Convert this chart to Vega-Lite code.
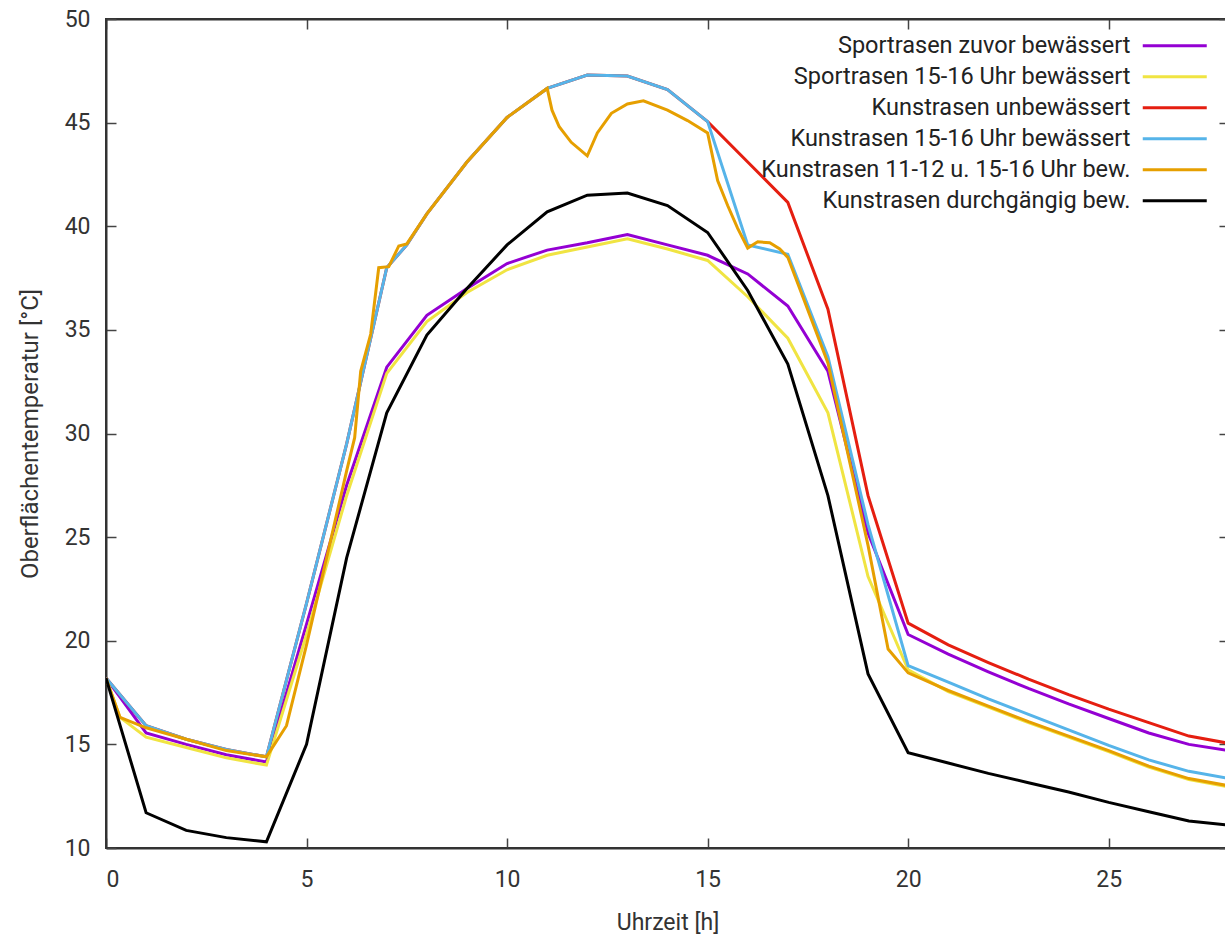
{
  "$schema": "https://vega.github.io/schema/vega-lite/v6.json",
  "autosize": {"type": "none"},
  "padding": {"left": 106, "top": 19, "right": 0, "bottom": 89},
  "width": 1123,
  "height": 829,
  "background": "white",
  "config": {
    "view": {"stroke": "#333", "strokeWidth": 2},
    "font": "Roboto"
  },
  "data": {
    "values": [
      {"serie": "Sportrasen zuvor bewässert", "zeit": 0, "temp": 18.2},
      {"serie": "Sportrasen zuvor bewässert", "zeit": 1, "temp": 15.55},
      {"serie": "Sportrasen zuvor bewässert", "zeit": 2, "temp": 15.0},
      {"serie": "Sportrasen zuvor bewässert", "zeit": 3, "temp": 14.5},
      {"serie": "Sportrasen zuvor bewässert", "zeit": 4, "temp": 14.15},
      {"serie": "Sportrasen zuvor bewässert", "zeit": 5, "temp": 20.8},
      {"serie": "Sportrasen zuvor bewässert", "zeit": 6, "temp": 27.5},
      {"serie": "Sportrasen zuvor bewässert", "zeit": 7, "temp": 33.2},
      {"serie": "Sportrasen zuvor bewässert", "zeit": 8, "temp": 35.7},
      {"serie": "Sportrasen zuvor bewässert", "zeit": 9, "temp": 37.0},
      {"serie": "Sportrasen zuvor bewässert", "zeit": 10, "temp": 38.2},
      {"serie": "Sportrasen zuvor bewässert", "zeit": 11, "temp": 38.85},
      {"serie": "Sportrasen zuvor bewässert", "zeit": 12, "temp": 39.2},
      {"serie": "Sportrasen zuvor bewässert", "zeit": 13, "temp": 39.6},
      {"serie": "Sportrasen zuvor bewässert", "zeit": 14, "temp": 39.1},
      {"serie": "Sportrasen zuvor bewässert", "zeit": 15, "temp": 38.6},
      {"serie": "Sportrasen zuvor bewässert", "zeit": 16, "temp": 37.7},
      {"serie": "Sportrasen zuvor bewässert", "zeit": 17, "temp": 36.15},
      {"serie": "Sportrasen zuvor bewässert", "zeit": 18, "temp": 33.0},
      {"serie": "Sportrasen zuvor bewässert", "zeit": 19, "temp": 25.2},
      {"serie": "Sportrasen zuvor bewässert", "zeit": 20, "temp": 20.3},
      {"serie": "Sportrasen zuvor bewässert", "zeit": 21, "temp": 19.35},
      {"serie": "Sportrasen zuvor bewässert", "zeit": 22, "temp": 18.5},
      {"serie": "Sportrasen zuvor bewässert", "zeit": 23, "temp": 17.7},
      {"serie": "Sportrasen zuvor bewässert", "zeit": 24, "temp": 16.95},
      {"serie": "Sportrasen zuvor bewässert", "zeit": 25, "temp": 16.25},
      {"serie": "Sportrasen zuvor bewässert", "zeit": 26, "temp": 15.55},
      {"serie": "Sportrasen zuvor bewässert", "zeit": 27, "temp": 15.0},
      {"serie": "Sportrasen zuvor bewässert", "zeit": 28, "temp": 14.7},

      {"serie": "Sportrasen 15-16 Uhr bewässert", "zeit": 0, "temp": 18.2},
      {"serie": "Sportrasen 15-16 Uhr bewässert", "zeit": 0.35, "temp": 16.3},
      {"serie": "Sportrasen 15-16 Uhr bewässert", "zeit": 1, "temp": 15.35},
      {"serie": "Sportrasen 15-16 Uhr bewässert", "zeit": 2, "temp": 14.85},
      {"serie": "Sportrasen 15-16 Uhr bewässert", "zeit": 3, "temp": 14.35},
      {"serie": "Sportrasen 15-16 Uhr bewässert", "zeit": 4, "temp": 14.0},
      {"serie": "Sportrasen 15-16 Uhr bewässert", "zeit": 5, "temp": 20.3},
      {"serie": "Sportrasen 15-16 Uhr bewässert", "zeit": 6, "temp": 27.0},
      {"serie": "Sportrasen 15-16 Uhr bewässert", "zeit": 7, "temp": 32.9},
      {"serie": "Sportrasen 15-16 Uhr bewässert", "zeit": 8, "temp": 35.4},
      {"serie": "Sportrasen 15-16 Uhr bewässert", "zeit": 9, "temp": 36.8},
      {"serie": "Sportrasen 15-16 Uhr bewässert", "zeit": 10, "temp": 37.9},
      {"serie": "Sportrasen 15-16 Uhr bewässert", "zeit": 11, "temp": 38.6},
      {"serie": "Sportrasen 15-16 Uhr bewässert", "zeit": 12, "temp": 39.0},
      {"serie": "Sportrasen 15-16 Uhr bewässert", "zeit": 13, "temp": 39.4},
      {"serie": "Sportrasen 15-16 Uhr bewässert", "zeit": 14, "temp": 38.9},
      {"serie": "Sportrasen 15-16 Uhr bewässert", "zeit": 15, "temp": 38.35},
      {"serie": "Sportrasen 15-16 Uhr bewässert", "zeit": 16, "temp": 36.6},
      {"serie": "Sportrasen 15-16 Uhr bewässert", "zeit": 17, "temp": 34.6},
      {"serie": "Sportrasen 15-16 Uhr bewässert", "zeit": 18, "temp": 31.0},
      {"serie": "Sportrasen 15-16 Uhr bewässert", "zeit": 19, "temp": 23.1},
      {"serie": "Sportrasen 15-16 Uhr bewässert", "zeit": 20, "temp": 18.6},
      {"serie": "Sportrasen 15-16 Uhr bewässert", "zeit": 21, "temp": 17.55},
      {"serie": "Sportrasen 15-16 Uhr bewässert", "zeit": 22, "temp": 16.8},
      {"serie": "Sportrasen 15-16 Uhr bewässert", "zeit": 23, "temp": 16.05},
      {"serie": "Sportrasen 15-16 Uhr bewässert", "zeit": 24, "temp": 15.35},
      {"serie": "Sportrasen 15-16 Uhr bewässert", "zeit": 25, "temp": 14.65},
      {"serie": "Sportrasen 15-16 Uhr bewässert", "zeit": 26, "temp": 13.9},
      {"serie": "Sportrasen 15-16 Uhr bewässert", "zeit": 27, "temp": 13.3},
      {"serie": "Sportrasen 15-16 Uhr bewässert", "zeit": 28, "temp": 12.95},

      {"serie": "Kunstrasen unbewässert", "zeit": 0, "temp": 18.2},
      {"serie": "Kunstrasen unbewässert", "zeit": 1, "temp": 15.9},
      {"serie": "Kunstrasen unbewässert", "zeit": 2, "temp": 15.25},
      {"serie": "Kunstrasen unbewässert", "zeit": 3, "temp": 14.75},
      {"serie": "Kunstrasen unbewässert", "zeit": 4, "temp": 14.4},
      {"serie": "Kunstrasen unbewässert", "zeit": 5, "temp": 21.8},
      {"serie": "Kunstrasen unbewässert", "zeit": 6, "temp": 29.5},
      {"serie": "Kunstrasen unbewässert", "zeit": 7, "temp": 38.0},
      {"serie": "Kunstrasen unbewässert", "zeit": 7.5, "temp": 39.1},
      {"serie": "Kunstrasen unbewässert", "zeit": 8, "temp": 40.6},
      {"serie": "Kunstrasen unbewässert", "zeit": 9, "temp": 43.1},
      {"serie": "Kunstrasen unbewässert", "zeit": 10, "temp": 45.25},
      {"serie": "Kunstrasen unbewässert", "zeit": 11, "temp": 46.65},
      {"serie": "Kunstrasen unbewässert", "zeit": 12, "temp": 47.3},
      {"serie": "Kunstrasen unbewässert", "zeit": 13, "temp": 47.25},
      {"serie": "Kunstrasen unbewässert", "zeit": 14, "temp": 46.6},
      {"serie": "Kunstrasen unbewässert", "zeit": 15, "temp": 45.05},
      {"serie": "Kunstrasen unbewässert", "zeit": 16, "temp": 43.1},
      {"serie": "Kunstrasen unbewässert", "zeit": 17, "temp": 41.15},
      {"serie": "Kunstrasen unbewässert", "zeit": 18, "temp": 36.0},
      {"serie": "Kunstrasen unbewässert", "zeit": 19, "temp": 27.0},
      {"serie": "Kunstrasen unbewässert", "zeit": 20, "temp": 20.85},
      {"serie": "Kunstrasen unbewässert", "zeit": 21, "temp": 19.8},
      {"serie": "Kunstrasen unbewässert", "zeit": 22, "temp": 18.95},
      {"serie": "Kunstrasen unbewässert", "zeit": 23, "temp": 18.15},
      {"serie": "Kunstrasen unbewässert", "zeit": 24, "temp": 17.4},
      {"serie": "Kunstrasen unbewässert", "zeit": 25, "temp": 16.7},
      {"serie": "Kunstrasen unbewässert", "zeit": 26, "temp": 16.05},
      {"serie": "Kunstrasen unbewässert", "zeit": 27, "temp": 15.4},
      {"serie": "Kunstrasen unbewässert", "zeit": 28, "temp": 15.05},

      {"serie": "Kunstrasen 15-16 Uhr bewässert", "zeit": 0, "temp": 18.2},
      {"serie": "Kunstrasen 15-16 Uhr bewässert", "zeit": 1, "temp": 15.9},
      {"serie": "Kunstrasen 15-16 Uhr bewässert", "zeit": 2, "temp": 15.25},
      {"serie": "Kunstrasen 15-16 Uhr bewässert", "zeit": 3, "temp": 14.75},
      {"serie": "Kunstrasen 15-16 Uhr bewässert", "zeit": 4, "temp": 14.4},
      {"serie": "Kunstrasen 15-16 Uhr bewässert", "zeit": 5, "temp": 21.8},
      {"serie": "Kunstrasen 15-16 Uhr bewässert", "zeit": 6, "temp": 29.5},
      {"serie": "Kunstrasen 15-16 Uhr bewässert", "zeit": 7, "temp": 38.0},
      {"serie": "Kunstrasen 15-16 Uhr bewässert", "zeit": 7.5, "temp": 39.1},
      {"serie": "Kunstrasen 15-16 Uhr bewässert", "zeit": 8, "temp": 40.6},
      {"serie": "Kunstrasen 15-16 Uhr bewässert", "zeit": 9, "temp": 43.1},
      {"serie": "Kunstrasen 15-16 Uhr bewässert", "zeit": 10, "temp": 45.25},
      {"serie": "Kunstrasen 15-16 Uhr bewässert", "zeit": 11, "temp": 46.65},
      {"serie": "Kunstrasen 15-16 Uhr bewässert", "zeit": 12, "temp": 47.3},
      {"serie": "Kunstrasen 15-16 Uhr bewässert", "zeit": 13, "temp": 47.25},
      {"serie": "Kunstrasen 15-16 Uhr bewässert", "zeit": 14, "temp": 46.6},
      {"serie": "Kunstrasen 15-16 Uhr bewässert", "zeit": 15, "temp": 45.05},
      {"serie": "Kunstrasen 15-16 Uhr bewässert", "zeit": 16, "temp": 39.1},
      {"serie": "Kunstrasen 15-16 Uhr bewässert", "zeit": 17, "temp": 38.65},
      {"serie": "Kunstrasen 15-16 Uhr bewässert", "zeit": 18, "temp": 33.7},
      {"serie": "Kunstrasen 15-16 Uhr bewässert", "zeit": 19, "temp": 25.6},
      {"serie": "Kunstrasen 15-16 Uhr bewässert", "zeit": 20, "temp": 18.8},
      {"serie": "Kunstrasen 15-16 Uhr bewässert", "zeit": 21, "temp": 18.0},
      {"serie": "Kunstrasen 15-16 Uhr bewässert", "zeit": 22, "temp": 17.2},
      {"serie": "Kunstrasen 15-16 Uhr bewässert", "zeit": 23, "temp": 16.45},
      {"serie": "Kunstrasen 15-16 Uhr bewässert", "zeit": 24, "temp": 15.7},
      {"serie": "Kunstrasen 15-16 Uhr bewässert", "zeit": 25, "temp": 14.95},
      {"serie": "Kunstrasen 15-16 Uhr bewässert", "zeit": 26, "temp": 14.25},
      {"serie": "Kunstrasen 15-16 Uhr bewässert", "zeit": 27, "temp": 13.7},
      {"serie": "Kunstrasen 15-16 Uhr bewässert", "zeit": 28, "temp": 13.35},

      {"serie": "Kunstrasen 11-12 u. 15-16 Uhr bew.", "zeit": 0, "temp": 18.2},
      {"serie": "Kunstrasen 11-12 u. 15-16 Uhr bew.", "zeit": 0.35, "temp": 16.3},
      {"serie": "Kunstrasen 11-12 u. 15-16 Uhr bew.", "zeit": 1, "temp": 15.8},
      {"serie": "Kunstrasen 11-12 u. 15-16 Uhr bew.", "zeit": 2, "temp": 15.25},
      {"serie": "Kunstrasen 11-12 u. 15-16 Uhr bew.", "zeit": 3, "temp": 14.7},
      {"serie": "Kunstrasen 11-12 u. 15-16 Uhr bew.", "zeit": 4, "temp": 14.4},
      {"serie": "Kunstrasen 11-12 u. 15-16 Uhr bew.", "zeit": 4.5, "temp": 15.9},
      {"serie": "Kunstrasen 11-12 u. 15-16 Uhr bew.", "zeit": 5, "temp": 19.8},
      {"serie": "Kunstrasen 11-12 u. 15-16 Uhr bew.", "zeit": 5.5, "temp": 24.0},
      {"serie": "Kunstrasen 11-12 u. 15-16 Uhr bew.", "zeit": 6, "temp": 28.2},
      {"serie": "Kunstrasen 11-12 u. 15-16 Uhr bew.", "zeit": 6.2, "temp": 29.8},
      {"serie": "Kunstrasen 11-12 u. 15-16 Uhr bew.", "zeit": 6.35, "temp": 33.0},
      {"serie": "Kunstrasen 11-12 u. 15-16 Uhr bew.", "zeit": 6.6, "temp": 34.8},
      {"serie": "Kunstrasen 11-12 u. 15-16 Uhr bew.", "zeit": 6.8, "temp": 38.0},
      {"serie": "Kunstrasen 11-12 u. 15-16 Uhr bew.", "zeit": 7.05, "temp": 38.05},
      {"serie": "Kunstrasen 11-12 u. 15-16 Uhr bew.", "zeit": 7.3, "temp": 39.05},
      {"serie": "Kunstrasen 11-12 u. 15-16 Uhr bew.", "zeit": 7.5, "temp": 39.15},
      {"serie": "Kunstrasen 11-12 u. 15-16 Uhr bew.", "zeit": 8, "temp": 40.6},
      {"serie": "Kunstrasen 11-12 u. 15-16 Uhr bew.", "zeit": 9, "temp": 43.1},
      {"serie": "Kunstrasen 11-12 u. 15-16 Uhr bew.", "zeit": 10, "temp": 45.25},
      {"serie": "Kunstrasen 11-12 u. 15-16 Uhr bew.", "zeit": 11, "temp": 46.65},
      {"serie": "Kunstrasen 11-12 u. 15-16 Uhr bew.", "zeit": 11.12, "temp": 45.6},
      {"serie": "Kunstrasen 11-12 u. 15-16 Uhr bew.", "zeit": 11.3, "temp": 44.8},
      {"serie": "Kunstrasen 11-12 u. 15-16 Uhr bew.", "zeit": 11.6, "temp": 44.05},
      {"serie": "Kunstrasen 11-12 u. 15-16 Uhr bew.", "zeit": 12, "temp": 43.4},
      {"serie": "Kunstrasen 11-12 u. 15-16 Uhr bew.", "zeit": 12.25, "temp": 44.5},
      {"serie": "Kunstrasen 11-12 u. 15-16 Uhr bew.", "zeit": 12.6, "temp": 45.45},
      {"serie": "Kunstrasen 11-12 u. 15-16 Uhr bew.", "zeit": 13, "temp": 45.9},
      {"serie": "Kunstrasen 11-12 u. 15-16 Uhr bew.", "zeit": 13.4, "temp": 46.05},
      {"serie": "Kunstrasen 11-12 u. 15-16 Uhr bew.", "zeit": 14, "temp": 45.6},
      {"serie": "Kunstrasen 11-12 u. 15-16 Uhr bew.", "zeit": 14.5, "temp": 45.1},
      {"serie": "Kunstrasen 11-12 u. 15-16 Uhr bew.", "zeit": 15, "temp": 44.5},
      {"serie": "Kunstrasen 11-12 u. 15-16 Uhr bew.", "zeit": 15.25, "temp": 42.2},
      {"serie": "Kunstrasen 11-12 u. 15-16 Uhr bew.", "zeit": 15.5, "temp": 41.0},
      {"serie": "Kunstrasen 11-12 u. 15-16 Uhr bew.", "zeit": 15.75, "temp": 39.9},
      {"serie": "Kunstrasen 11-12 u. 15-16 Uhr bew.", "zeit": 16, "temp": 38.95},
      {"serie": "Kunstrasen 11-12 u. 15-16 Uhr bew.", "zeit": 16.25, "temp": 39.25},
      {"serie": "Kunstrasen 11-12 u. 15-16 Uhr bew.", "zeit": 16.55, "temp": 39.2},
      {"serie": "Kunstrasen 11-12 u. 15-16 Uhr bew.", "zeit": 16.8, "temp": 38.9},
      {"serie": "Kunstrasen 11-12 u. 15-16 Uhr bew.", "zeit": 17, "temp": 38.5},
      {"serie": "Kunstrasen 11-12 u. 15-16 Uhr bew.", "zeit": 18, "temp": 33.4},
      {"serie": "Kunstrasen 11-12 u. 15-16 Uhr bew.", "zeit": 19, "temp": 24.6},
      {"serie": "Kunstrasen 11-12 u. 15-16 Uhr bew.", "zeit": 19.5, "temp": 19.6},
      {"serie": "Kunstrasen 11-12 u. 15-16 Uhr bew.", "zeit": 20, "temp": 18.45},
      {"serie": "Kunstrasen 11-12 u. 15-16 Uhr bew.", "zeit": 21, "temp": 17.6},
      {"serie": "Kunstrasen 11-12 u. 15-16 Uhr bew.", "zeit": 22, "temp": 16.85},
      {"serie": "Kunstrasen 11-12 u. 15-16 Uhr bew.", "zeit": 23, "temp": 16.1},
      {"serie": "Kunstrasen 11-12 u. 15-16 Uhr bew.", "zeit": 24, "temp": 15.4},
      {"serie": "Kunstrasen 11-12 u. 15-16 Uhr bew.", "zeit": 25, "temp": 14.7},
      {"serie": "Kunstrasen 11-12 u. 15-16 Uhr bew.", "zeit": 26, "temp": 13.95},
      {"serie": "Kunstrasen 11-12 u. 15-16 Uhr bew.", "zeit": 27, "temp": 13.35},
      {"serie": "Kunstrasen 11-12 u. 15-16 Uhr bew.", "zeit": 28, "temp": 13.0},

      {"serie": "Kunstrasen durchgängig bew.", "zeit": 0, "temp": 18.2},
      {"serie": "Kunstrasen durchgängig bew.", "zeit": 1, "temp": 11.7},
      {"serie": "Kunstrasen durchgängig bew.", "zeit": 2, "temp": 10.85},
      {"serie": "Kunstrasen durchgängig bew.", "zeit": 3, "temp": 10.5},
      {"serie": "Kunstrasen durchgängig bew.", "zeit": 4, "temp": 10.3},
      {"serie": "Kunstrasen durchgängig bew.", "zeit": 5, "temp": 15.0},
      {"serie": "Kunstrasen durchgängig bew.", "zeit": 6, "temp": 24.0},
      {"serie": "Kunstrasen durchgängig bew.", "zeit": 7, "temp": 31.0},
      {"serie": "Kunstrasen durchgängig bew.", "zeit": 8, "temp": 34.75},
      {"serie": "Kunstrasen durchgängig bew.", "zeit": 9, "temp": 37.0},
      {"serie": "Kunstrasen durchgängig bew.", "zeit": 10, "temp": 39.1},
      {"serie": "Kunstrasen durchgängig bew.", "zeit": 11, "temp": 40.7},
      {"serie": "Kunstrasen durchgängig bew.", "zeit": 12, "temp": 41.5},
      {"serie": "Kunstrasen durchgängig bew.", "zeit": 13, "temp": 41.6},
      {"serie": "Kunstrasen durchgängig bew.", "zeit": 14, "temp": 41.0},
      {"serie": "Kunstrasen durchgängig bew.", "zeit": 15, "temp": 39.7},
      {"serie": "Kunstrasen durchgängig bew.", "zeit": 16, "temp": 36.9},
      {"serie": "Kunstrasen durchgängig bew.", "zeit": 17, "temp": 33.35},
      {"serie": "Kunstrasen durchgängig bew.", "zeit": 18, "temp": 27.0},
      {"serie": "Kunstrasen durchgängig bew.", "zeit": 19, "temp": 18.4},
      {"serie": "Kunstrasen durchgängig bew.", "zeit": 20, "temp": 14.6},
      {"serie": "Kunstrasen durchgängig bew.", "zeit": 21, "temp": 14.1},
      {"serie": "Kunstrasen durchgängig bew.", "zeit": 22, "temp": 13.6},
      {"serie": "Kunstrasen durchgängig bew.", "zeit": 23, "temp": 13.15},
      {"serie": "Kunstrasen durchgängig bew.", "zeit": 24, "temp": 12.7},
      {"serie": "Kunstrasen durchgängig bew.", "zeit": 25, "temp": 12.2},
      {"serie": "Kunstrasen durchgängig bew.", "zeit": 26, "temp": 11.75},
      {"serie": "Kunstrasen durchgängig bew.", "zeit": 27, "temp": 11.3},
      {"serie": "Kunstrasen durchgängig bew.", "zeit": 28, "temp": 11.1}
    ]
  },
  "layer": [
    {
      "mark": {"type": "line", "strokeWidth": 3, "clip": true},
      "encoding": {
        "x": {
          "field": "zeit", "type": "quantitative",
          "scale": {"domain": [0, 28], "nice": false, "zero": false},
          "axis": {
            "orient": "bottom", "values": [0, 5, 10, 15, 20, 25], "grid": false,
            "tickSize": -10, "tickColor": "#444", "tickWidth": 1.5,
            "domainColor": "#333", "domainWidth": 2,
            "labelFont": "Roboto", "labelFontSize": 23, "labelColor": "#333", "labelPadding": 30,
            "title": "Uhrzeit [h]", "titleFont": "Roboto", "titleFontSize": 23, "titleFontWeight": "normal", "titleColor": "#333", "titlePadding": 20
          }
        },
        "y": {
          "field": "temp", "type": "quantitative",
          "scale": {"domain": [10, 50], "nice": false, "zero": false},
          "axis": {
            "orient": "left", "values": [10, 15, 20, 25, 30, 35, 40, 45, 50], "grid": false,
            "tickSize": -10, "tickColor": "#444", "tickWidth": 1.5,
            "domainColor": "#333", "domainWidth": 2,
            "labelFont": "Roboto", "labelFontSize": 23, "labelColor": "#333", "labelPadding": 26,
            "title": "Oberflächentemperatur [°C]", "titleFont": "Roboto", "titleFontSize": 24, "titleFontWeight": "normal", "titleColor": "#333", "titlePadding": 22
          }
        },
        "color": {
          "field": "serie", "type": "nominal", "sort": null,
          "scale": {
            "domain": ["Sportrasen zuvor bewässert", "Sportrasen 15-16 Uhr bewässert", "Kunstrasen unbewässert", "Kunstrasen 15-16 Uhr bewässert", "Kunstrasen 11-12 u. 15-16 Uhr bew.", "Kunstrasen durchgängig bew."],
            "range": ["#9400d3", "#f0e442", "#e51e10", "#56b4e9", "#e69f00", "#000000"]
          },
          "legend": {
            "orient": "none", "legendX": 1057, "legendY": 15, "title": null,
            "symbolType": "M-4,0H4", "symbolSize": 256, "symbolStrokeWidth": 3,
            "labelAlign": "right", "labelOffset": -56, "labelFont": "Roboto", "labelFontSize": 23.5,
            "labelColor": "#222", "labelLimit": 0, "rowPadding": 6
          }
        },
        "order": {"field": "zeit", "type": "quantitative"}
      }
    },
    {
      "mark": {"type": "line", "strokeOpacity": 0},
      "encoding": {
        "x": {
          "field": "zeit", "type": "quantitative",
          "scale": {"domain": [0, 28], "nice": false, "zero": false},
          "axis": {
            "orient": "top", "values": [0, 5, 10, 15, 20, 25], "grid": false, "labels": false, "title": null,
            "tickSize": -10, "tickColor": "#444", "tickWidth": 1.5,
            "domainColor": "#333", "domainWidth": 2
          }
        },
        "y": {
          "field": "temp", "type": "quantitative",
          "scale": {"domain": [10, 50], "nice": false, "zero": false},
          "axis": {
            "orient": "right", "values": [10, 15, 20, 25, 30, 35, 40, 45, 50], "grid": false, "labels": false, "title": null,
            "tickSize": -10, "tickColor": "#444", "tickWidth": 1.5,
            "domainColor": "#333", "domainWidth": 2
          }
        },
        "detail": {"field": "serie", "type": "nominal"}
      }
    }
  ],
  "resolve": {"axis": {"x": "independent", "y": "independent"}}
}
